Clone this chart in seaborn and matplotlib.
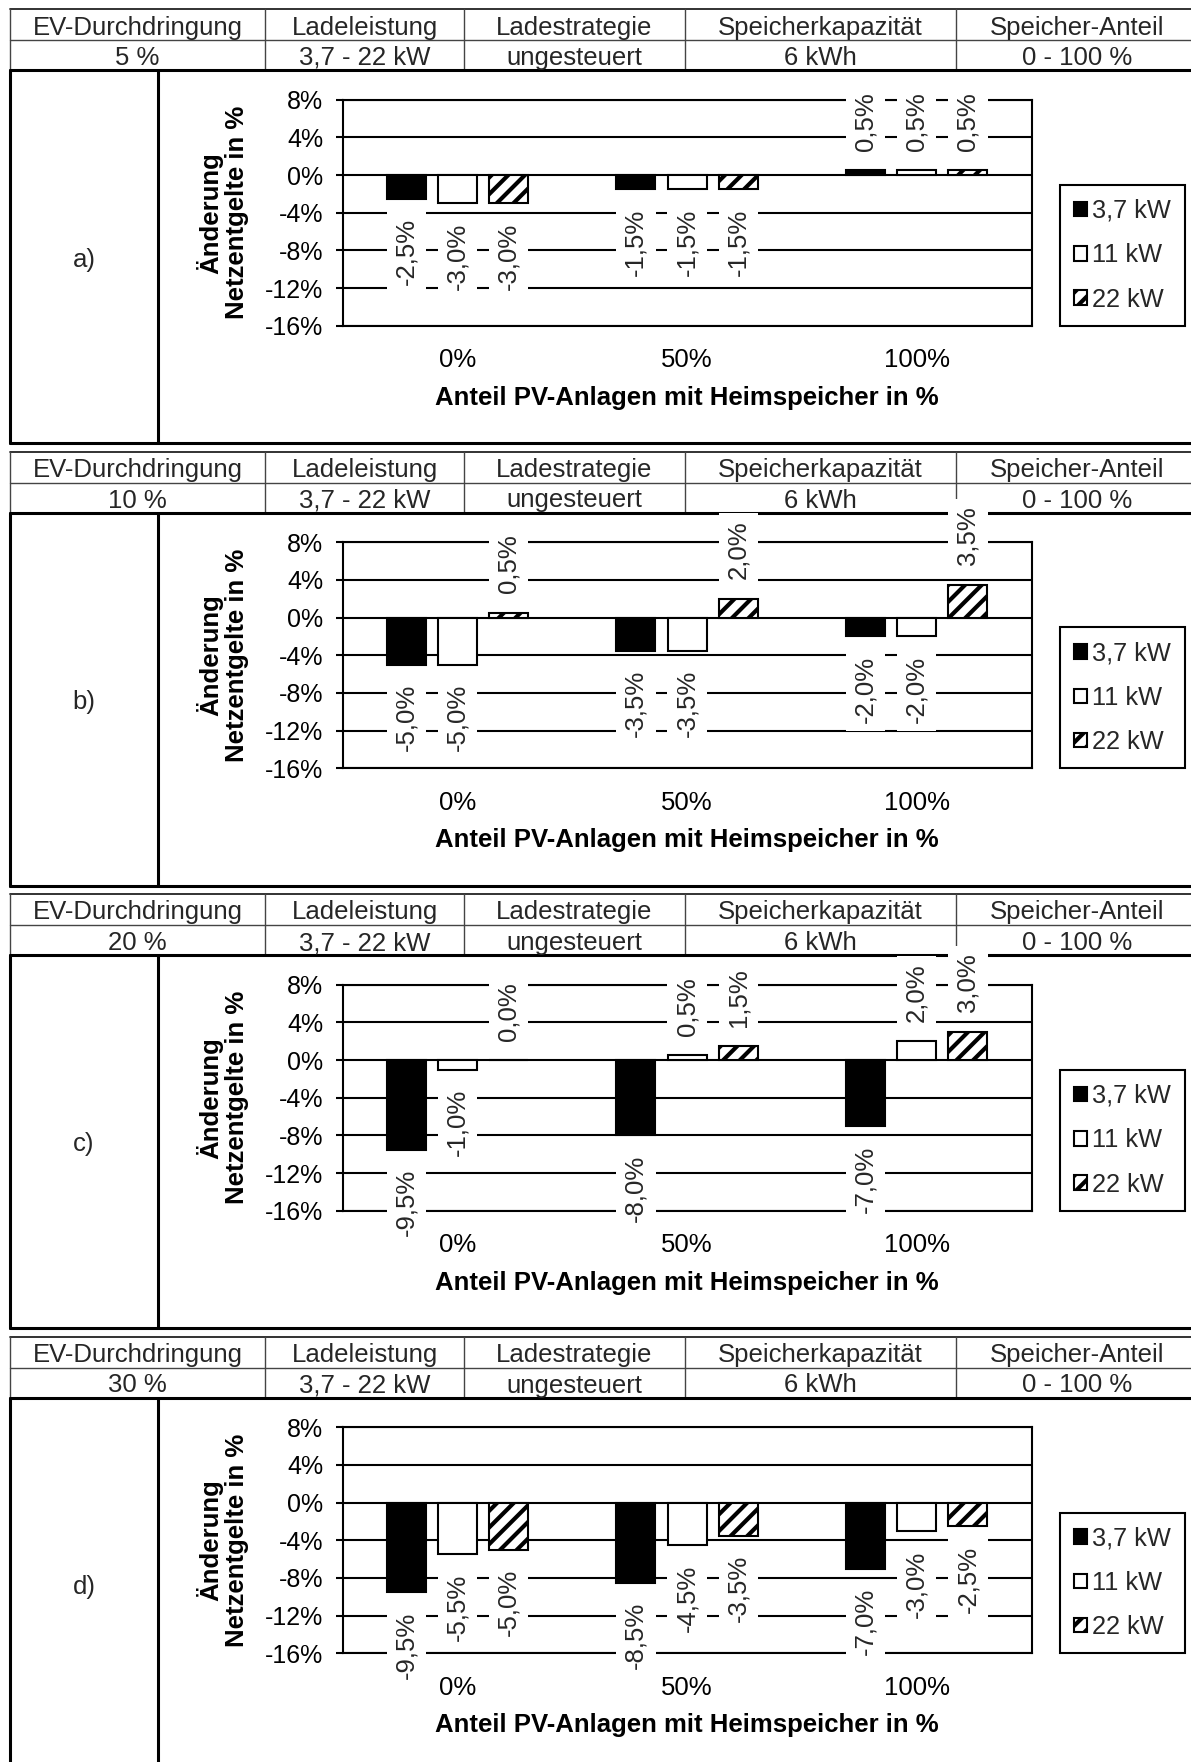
import numpy as np
import pandas as pd
import matplotlib
matplotlib.use('Agg')
import matplotlib.pyplot as plt
import seaborn as sns

# --- data -------------------------------------------------------------
panel_ids = ['a)', 'b)', 'c)', 'd)']
ev_share = ['5 %', '10 %', '20 %', '30 %']
header_titles = ['EV-Durchdringung', 'Ladeleistung', 'Ladestrategie',
                 'Speicherkapazität', 'Speicher-Anteil']
header_rest = ['3,7 - 22 kW', 'ungesteuert', '6 kWh', '0 - 100 %']
storage_share = ['0%', '50%', '100%']
power_levels = ['3,7 kW', '11 kW', '22 kW']

# change of grid fees in %, one row per storage share (3,7 / 11 / 22 kW)
vals_a = [[-2.5, -3.0, -3.0], [-1.5, -1.5, -1.5], [0.5, 0.5, 0.5]]
vals_b = [[-5.0, -5.0, 0.5], [-3.5, -3.5, 2.0], [-2.0, -2.0, 3.5]]
vals_c = [[-9.5, -1.0, 0.0], [-8.0, 0.5, 1.5], [-7.0, 2.0, 3.0]]
vals_d = [[-9.5, -5.5, -5.0], [-8.5, -4.5, -3.5], [-7.0, -3.0, -2.5]]
panel_values = [vals_a, vals_b, vals_c, vals_d]

y_ticks = [-16, -12, -8, -4, 0, 4, 8]
x_title = 'Anteil PV-Anlagen mit Heimspeicher in %'
y_title = 'Änderung\nNetzentgelte in %'

# --- style ------------------------------------------------------------
sns.set_theme(style='white')
plt.rcParams['font.family'] = ['Liberation Sans', 'DejaVu Sans']
plt.rcParams['hatch.linewidth'] = 3.0
plt.rcParams['hatch.color'] = 'black'

W, H = 1191, 1762
P = 442.5  # vertical period of one panel in pixels
col_edges = [10, 265, 464, 685, 956, 1200]

fig = plt.figure(figsize=(W / 100, H / 100), dpi=100)
fig.patch.set_facecolor('white')

# overlay in pixel coordinates for the table frame
frame = fig.add_axes([0, 0, 1, 1])
frame.set_xlim(0, W)
frame.set_ylim(H, 0)
frame.axis('off')


def fmt_pct(v):
    return '{:.1f}%'.format(v).replace('.', ',')


for k in range(4):
    off = k * P
    y_top, y_mid, y_bot, y_box = 9 + off, 40 + off, 70 + off, 443 + off

    # header table
    frame.plot([10, W], [y_top, y_top], color='#222222', lw=1.3)
    frame.plot([10, W], [y_mid, y_mid], color='#444444', lw=1.0)
    for x in col_edges[:-1]:
        frame.plot([x, x], [y_top, y_bot], color='#444444', lw=1.0)
    row1 = header_titles
    row2 = [ev_share[k]] + header_rest
    for i in range(5):
        xc = (col_edges[i] + col_edges[i + 1]) / 2
        if i == 4:
            xc = 1077
        frame.text(xc, (y_top + y_mid) / 2 + 3, row1[i], ha='center', va='center', fontsize=18.5)
        frame.text(xc, (y_mid + y_bot) / 2 + 3, row2[i], ha='center', va='center', fontsize=18.5)

    # chart box
    frame.plot([10, W], [y_bot, y_bot], color='black', lw=2.2)
    frame.plot([10, W], [y_box, y_box], color='black', lw=2.2)
    frame.plot([10, 10], [y_bot, y_box], color='black', lw=2.2)
    frame.plot([158, 158], [y_bot, y_box], color='black', lw=2.2)
    frame.text(84, (y_bot + y_box) / 2 + 3, panel_ids[k], ha='center', va='center', fontsize=18.5)

    # bar chart
    vals = panel_values[k]
    df = pd.DataFrame({
        'share': [s for s in storage_share for _ in power_levels],
        'power': [p for _ in storage_share for p in power_levels],
        'value': [v for row in vals for v in row],
    })
    ax_top, ax_bottom = 99.8 + off, 325.8 + off
    ax = fig.add_axes([342.7 / W, 1 - ax_bottom / H, 688.8 / W, (ax_bottom - ax_top) / H])
    ax.patch.set_alpha(0)
    sns.barplot(data=df, x='share', y='value', hue='power', order=storage_share,
                hue_order=power_levels, palette=['black', 'white', 'white'],
                edgecolor='black', linewidth=1.5, width=0.67, gap=0.24,
                saturation=1, errorbar=None, legend=False, ax=ax)
    conts = list(ax.containers)
    for bar in conts[2]:
        bar.set_hatch('//')

    for cont in conts:
        ax.bar_label(cont, labels=[fmt_pct(v) for v in cont.datavalues],
                     padding=14, rotation=90, fontsize=18.5,
                     bbox=dict(boxstyle='square,pad=0.3', fc='white', ec='none'))

    ax.set_ylim(-16, 8)
    ax.set_yticks(y_ticks)
    ax.set_yticklabels(['{}%'.format(t) for t in y_ticks])
    ax.set_axisbelow(True)
    ax.yaxis.grid(True, color='black', linewidth=1.5)
    ax.xaxis.grid(False)
    for sp in ax.spines.values():
        sp.set_color('black')
        sp.set_linewidth(1.5)
    ax.tick_params(axis='y', left=True, length=5, width=1.5, pad=9, labelsize=18, colors='black')
    ax.tick_params(axis='x', bottom=False, length=0, pad=16, labelsize=18.5, colors='black')

    ax.set_xlabel(x_title, fontsize=18.5, fontweight='bold', labelpad=10, color='black')
    ax.set_ylabel(y_title, fontsize=18.5, fontweight='bold', color='black',
                  ha='center', va='center', linespacing=1.1)
    ax.yaxis.set_label_coords(-0.1745, 0.5)

    leg = ax.legend(handles=[c[0] for c in conts], labels=power_levels,
                    loc='upper left', bbox_to_anchor=(1060 / W, 1 - (185 + off) / H),
                    bbox_transform=fig.transFigure, frameon=True, fancybox=False,
                    edgecolor='black', framealpha=1, borderpad=0.55, labelspacing=0.8,
                    handlelength=0.5, handleheight=0.5, handletextpad=0.2,
                    fontsize=18.3, borderaxespad=0)
    leg.get_frame().set_linewidth(1.5)

fig.savefig('out.png', dpi=100, facecolor='white')
